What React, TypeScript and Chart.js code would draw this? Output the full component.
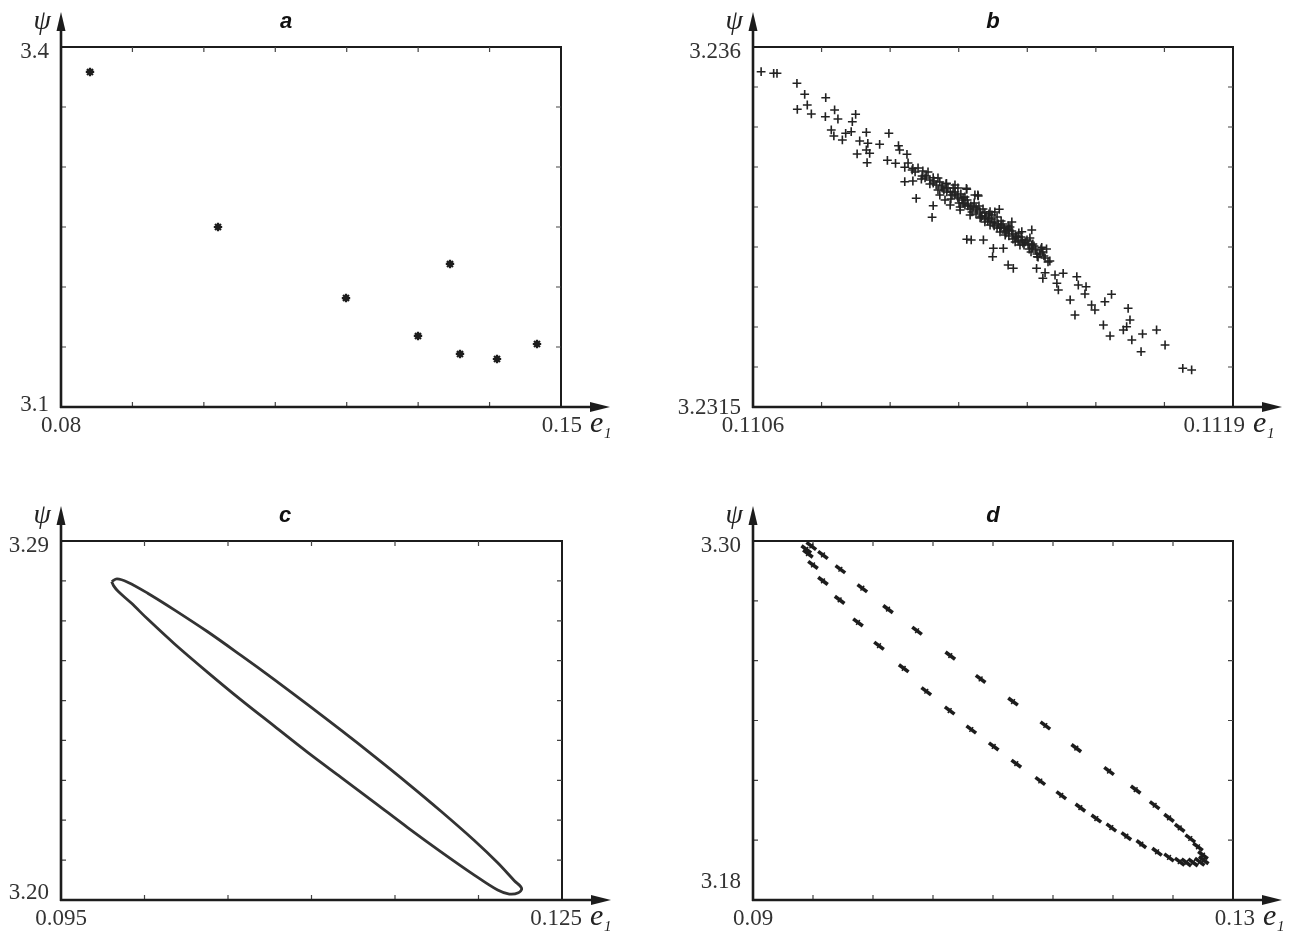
import React, { useEffect, useRef } from "react";
import { Chart, registerables } from "chart.js";
Chart.register(...registerables);

// ---------- Panel a ----------
const aE1 = [0.08406, 0.10198, 0.1199, 0.13446, 0.12998, 0.13586, 0.14104, 0.14664];
const aPsi = [3.3792, 3.25, 3.1908, 3.2192, 3.1592, 3.1442, 3.14, 3.1525];
const aXRange = [0.08, 0.15];
const aYRange = [3.1, 3.4];
const aXTickLabels = ["0.08", "0.15"];
const aYTickLabels = ["3.1", "3.4"];

// ---------- Panel b ----------
const bE1 = [
  0.110622, 0.110656, 0.110665, 0.110719, 0.11074, 0.110797, 0.11072, 0.110747, 0.110758, 0.110796,
  0.110821, 0.11083, 0.110878, 0.110869, 0.110812, 0.110819, 0.110851, 0.110866, 0.110842, 0.110907,
  0.110889, 0.110911, 0.110907, 0.110882, 0.110916, 0.110909, 0.110943, 0.110968, 0.110964, 0.110994,
  0.110997, 0.111017, 0.110986, 0.111011, 0.111033, 0.11106, 0.111011, 0.111033, 0.111056, 0.111088,
  0.111042, 0.111088, 0.111085, 0.111124, 0.111178, 0.111209, 0.111191,
  0.111039, 0.111058, 0.111079, 0.111096, 0.111106, 0.111117, 0.111128, 0.111139, 0.111147, 0.111155,
  0.111166, 0.111174, 0.111182, 0.11119, 0.111199, 0.111207, 0.111215, 0.111223, 0.111231, 0.111239,
  0.111247, 0.111255, 0.111264, 0.111272, 0.11128, 0.111288, 0.111296, 0.111304, 0.111312, 0.11132,
  0.111329, 0.111337, 0.111345, 0.111356, 0.111366, 0.111377, 0.11112, 0.111134, 0.111161, 0.111188,
  0.111228, 0.111269, 0.11131, 0.111147, 0.111201, 0.111255, 0.111301, 0.111106, 0.111161, 0.111215,
  0.111283, 0.11135, 0.111391, 0.111242, 0.111323, 0.111174, 0.111291, 0.111155,
  0.11102, 0.111031, 0.111047, 0.111066, 0.111074, 0.111088, 0.111101, 0.111112, 0.111123, 0.111134,
  0.111142, 0.111153, 0.111163, 0.111169, 0.11118, 0.111188, 0.111196, 0.111204, 0.111212, 0.11122,
  0.111228, 0.111236, 0.111245, 0.111253, 0.111261, 0.111269, 0.111277, 0.111285, 0.111293, 0.111301,
  0.11131, 0.111318, 0.111326, 0.111334, 0.111342, 0.111353, 0.111361, 0.111372, 0.111385, 0.111399,
  0.111069, 0.111079, 0.11109, 0.111101, 0.111112, 0.111125, 0.111136, 0.111147, 0.111158, 0.111169,
  0.111182, 0.111193, 0.111204, 0.111218, 0.111228, 0.111239, 0.11125, 0.111261, 0.111272, 0.111283,
  0.111293, 0.111304, 0.111315, 0.111331, 0.111348, 0.111358, 0.111369, 0.11138, 0.111388, 0.111404,
  0.111179, 0.11121, 0.111242, 0.111267, 0.111179, 0.111224, 0.111251, 0.111249, 0.111278, 0.111328,
  0.111355, 0.111355, 0.111382, 0.111395, 0.11137, 0.111368, 0.111291, 0.111305, 0.111385, 0.111391,
  0.111418, 0.11144, 0.111423, 0.111427, 0.111477, 0.111481, 0.111502, 0.111499, 0.111459, 0.111472,
  0.111517, 0.111526, 0.111553, 0.111571, 0.111549, 0.111567, 0.111612, 0.111621, 0.111616, 0.111603,
  0.111655, 0.111626, 0.111693, 0.111716, 0.111651, 0.111764, 0.111788,
];
const bPsi = [
  3.235691, 3.235671, 3.235671, 3.235546, 3.235409, 3.235366, 3.235221, 3.235275, 3.235163, 3.235129,
  3.235213, 3.2351, 3.235159, 3.235066, 3.234963, 3.234888, 3.234921, 3.234941, 3.234838, 3.234934,
  3.234825, 3.234796, 3.234713, 3.234663, 3.234671, 3.234554, 3.234784, 3.234921, 3.234584, 3.234766,
  3.234713, 3.234659, 3.234546, 3.234496, 3.234484, 3.23445, 3.234316, 3.234325, 3.23435, 3.234366,
  3.234109, 3.234016, 3.233871, 3.234296, 3.234234, 3.23415, 3.233588,
  3.234438, 3.234388, 3.234338, 3.234275, 3.234313, 3.234213, 3.234238, 3.23415, 3.234188, 3.234113,
  3.234088, 3.234125, 3.234038, 3.234013, 3.23405, 3.233963, 3.233938, 3.233975, 3.233888, 3.233863,
  3.2339, 3.233813, 3.233788, 3.233825, 3.233738, 3.233713, 3.23375, 3.233663, 3.233638, 3.233675,
  3.233588, 3.233563, 3.233538, 3.233488, 3.233463, 3.233413, 3.234088, 3.234025, 3.233963, 3.2339,
  3.233813, 3.233688, 3.233563, 3.234275, 3.23415, 3.233938, 3.233813, 3.23415, 3.234, 3.233863,
  3.23365, 3.233613, 3.233363, 3.233775, 3.233525, 3.234025, 3.233763, 3.234238,
  3.23455, 3.234463, 3.234488, 3.234363, 3.234438, 3.2343, 3.234363, 3.234238, 3.234288, 3.234188,
  3.234238, 3.234138, 3.234163, 3.23405, 3.234088, 3.233975, 3.234, 3.233913, 3.234013, 3.233888,
  3.233925, 3.233825, 3.23385, 3.233763, 3.233875, 3.233738, 3.233788, 3.233675, 3.233638, 3.2337,
  3.233613, 3.233575, 3.233625, 3.233525, 3.233588, 3.233438, 3.233513, 3.233375, 3.233438, 3.233313,
  3.234388, 3.234288, 3.234325, 3.234213, 3.234263, 3.234188, 3.2341, 3.234163, 3.23405, 3.234113,
  3.234013, 3.233938, 3.233988, 3.233875, 3.23385, 3.233913, 3.2338, 3.233738, 3.233763, 3.2337,
  3.233725, 3.2336, 3.233625, 3.23355, 3.233475, 3.233538, 3.233413, 3.233475, 3.233388, 3.233325,
  3.234221, 3.234138, 3.233941, 3.233971, 3.233596, 3.233588, 3.233484, 3.233379, 3.233484, 3.233691,
  3.233713, 3.233525, 3.233496, 3.233475, 3.233379, 3.233234, 3.233275, 3.233234, 3.233109, 3.233179,
  3.23315, 3.233171, 3.233046, 3.232963, 3.233129, 3.233025, 3.233004, 3.232913, 3.232838, 3.23265,
  3.232775, 3.232713, 3.232816, 3.232909, 3.232525, 3.232388, 3.232504, 3.232588, 3.232734, 3.232463,
  3.232413, 3.232338, 3.232463, 3.232275, 3.232191, 3.231984, 3.231963,
];
const bXRange = [0.1106, 0.1119];
const bYRange = [3.2315, 3.236];
const bXTickLabels = ["0.1106", "0.1119"];
const bYTickLabels = ["3.2315", "3.236"];

// ---------- Panel c ----------
const cE1 = [
  0.098034, 0.098353, 0.098992, 0.10019, 0.101786, 0.103782, 0.105778, 0.107774, 0.10977, 0.111766,
  0.113762, 0.115758, 0.117754, 0.11975, 0.121148, 0.122146, 0.122585, 0.122385, 0.121846, 0.121148,
  0.11975, 0.117754, 0.115758, 0.113762, 0.111766, 0.10977, 0.107774, 0.105778, 0.103782, 0.101786,
  0.10019, 0.099192, 0.098433, 0.098154, 0.098034,
];
const cPsi = [
  3.27983, 3.2805, 3.27967, 3.27692, 3.27275, 3.26725, 3.26133, 3.25525, 3.249, 3.24258,
  3.236, 3.22925, 3.22225, 3.21492, 3.20933, 3.20483, 3.20292, 3.20183, 3.2015, 3.2025,
  3.20625, 3.21208, 3.21817, 3.2245, 3.23075, 3.237, 3.24358, 3.25017, 3.25708, 3.26425,
  3.27042, 3.2745, 3.27733, 3.27875, 3.27983,
];
const cXRange = [0.095, 0.125];
const cYRange = [3.2, 3.29];
const cXTickLabels = ["0.095", "0.125"];
const cYTickLabels = ["3.20", "3.29"];

// ---------- Panel d ----------
const dE1 = [
  0.09486, 0.09583, 0.09728, 0.09911, 0.10125, 0.10367, 0.10644, 0.10897, 0.11167, 0.11436,
  0.11694, 0.11967, 0.12189, 0.12347, 0.12467, 0.12556, 0.12644, 0.12708, 0.1275, 0.12756,
  0.12722, 0.12667, 0.12611, 0.12556, 0.12467, 0.12367, 0.12236, 0.12111, 0.11986, 0.11861,
  0.11728, 0.11569, 0.11394, 0.11194, 0.11006, 0.10819, 0.10639, 0.10444, 0.10256, 0.1005,
  0.09875, 0.09722, 0.09583, 0.095, 0.09458, 0.09444,
];
const dPsi = [
  3.29833, 3.29533, 3.29056, 3.28422, 3.27722, 3.27, 3.26167, 3.25389, 3.24633, 3.23833,
  3.23078, 3.22311, 3.21689, 3.21167, 3.20744, 3.20411, 3.20056, 3.19778, 3.195, 3.19333,
  3.19278, 3.19256, 3.19256, 3.19278, 3.19422, 3.19611, 3.19867, 3.20133, 3.20422, 3.20722,
  3.21089, 3.215, 3.21978, 3.22556, 3.23133, 3.237, 3.24333, 3.24978, 3.25744, 3.265,
  3.27278, 3.28033, 3.28667, 3.292, 3.29578, 3.29722,
];
const dXRange = [0.09, 0.13];
const dYRange = [3.18, 3.3];
const dXTickLabels = ["0.09", "0.13"];
const dYTickLabels = ["3.18", "3.30"];

const pts = (xs: number[], ys: number[]) => xs.map((x, i) => ({ x, y: ys[i] }));

type Panel = {
  title: string;
  left: number; top: number; w: number; h: number;
  pad: { left: number; top: number; right: number; bottom: number };
  xr: number[]; yr: number[]; xn: number; yn: number;
  xLabels: string[]; yLabels: string[];
  titleX: number; eOff: number; yBotOff: number;
  datasets: any[];
};

const INK = "#1c1c1c";

const panels: Panel[] = [
  {
    title: "a", left: 0, top: 0, w: 647, h: 467,
    pad: { left: 61, top: 47, right: 86, bottom: 60 },
    xr: aXRange, yr: aYRange, xn: 7, yn: 6,
    xLabels: aXTickLabels, yLabels: aYTickLabels,
    titleX: 286, eOff: 29, yBotOff: -2,
    datasets: [{
      data: pts(aE1, aPsi), pointStyle: "star", pointRadius: 4.2,
      borderColor: INK, backgroundColor: INK, pointBorderWidth: 2.2,
    }],
  },
  {
    title: "b", left: 647, top: 0, w: 648, h: 467,
    pad: { left: 106, top: 47, right: 62, bottom: 60 },
    xr: bXRange, yr: bYRange, xn: 7, yn: 9,
    xLabels: bXTickLabels, yLabels: bYTickLabels,
    titleX: 346, eOff: 20, yBotOff: 1,
    datasets: [{
      data: pts(bE1, bPsi), pointStyle: "cross", pointRadius: 4.4,
      borderColor: "#222", backgroundColor: "#222", pointBorderWidth: 1.6,
    }],
  },
  {
    title: "c", left: 0, top: 467, w: 647, h: 467,
    pad: { left: 61, top: 74, right: 85, bottom: 34 },
    xr: cXRange, yr: cYRange, xn: 6, yn: 9,
    xLabels: cXTickLabels, yLabels: cYTickLabels,
    titleX: 285, eOff: 28, yBotOff: -7,
    datasets: [{
      data: pts(cE1, cPsi), showLine: true, tension: 0.35, pointRadius: 0,
      borderColor: "#333", borderWidth: 2.8, fill: false,
    }],
  },
  {
    title: "d", left: 647, top: 467, w: 648, h: 467,
    pad: { left: 106, top: 74, right: 62, bottom: 34 },
    xr: dXRange, yr: dYRange, xn: 8, yn: 6,
    xLabels: dXTickLabels, yLabels: dYTickLabels,
    titleX: 346, eOff: 30, yBotOff: -18,
    datasets: [
      {
        data: pts(dE1, dPsi), pointStyle: "line", pointRadius: 6, rotation: 37,
        borderColor: INK, backgroundColor: INK, pointBorderWidth: 3.6,
      },
      {
        data: pts(dE1, dPsi), pointStyle: "line", pointRadius: 3, rotation: -53,
        borderColor: INK, backgroundColor: INK, pointBorderWidth: 1.5,
      },
    ],
  },
];

function decoPlugin(p: Panel) {
  return {
    id: "deco_" + p.title,
    beforeDatasetsDraw(chart: any) {
      const { ctx, chartArea: ca, scales } = chart;
      const xs = scales.x, ys = scales.y;
      ctx.save();
      ctx.strokeStyle = INK;
      ctx.fillStyle = INK;
      ctx.lineCap = "butt";
      ctx.lineWidth = 2;
      ctx.beginPath();
      ctx.moveTo(ca.left, ca.top);
      ctx.lineTo(ca.right, ca.top);
      ctx.lineTo(ca.right, ca.bottom);
      ctx.stroke();
      ctx.lineWidth = 1.2;
      ctx.strokeStyle = "#444";
      for (let i = 1; i < p.xn; i++) {
        const v = p.xr[0] + (i * (p.xr[1] - p.xr[0])) / p.xn;
        const px = xs.getPixelForValue(v);
        ctx.beginPath();
        ctx.moveTo(px, ca.bottom); ctx.lineTo(px, ca.bottom - 5);
        ctx.moveTo(px, ca.top); ctx.lineTo(px, ca.top + 5);
        ctx.stroke();
      }
      for (let i = 1; i < p.yn; i++) {
        const v = p.yr[0] + (i * (p.yr[1] - p.yr[0])) / p.yn;
        const py = ys.getPixelForValue(v);
        ctx.beginPath();
        ctx.moveTo(ca.left, py); ctx.lineTo(ca.left + 5, py);
        ctx.moveTo(ca.right, py); ctx.lineTo(ca.right - 5, py);
        ctx.stroke();
      }
      ctx.strokeStyle = INK;
      ctx.lineWidth = 2.6;
      const yTip = ca.top - 35;
      const xTip = ca.right + 49;
      ctx.beginPath();
      ctx.moveTo(ca.left, ca.bottom + 1);
      ctx.lineTo(ca.left, yTip + 12);
      ctx.stroke();
      ctx.beginPath();
      ctx.moveTo(ca.left - 1, ca.bottom);
      ctx.lineTo(xTip - 12, ca.bottom);
      ctx.stroke();
      ctx.beginPath();
      ctx.moveTo(ca.left, yTip);
      ctx.lineTo(ca.left - 4.5, yTip + 19);
      ctx.lineTo(ca.left + 4.5, yTip + 19);
      ctx.closePath();
      ctx.fill();
      ctx.beginPath();
      ctx.moveTo(xTip, ca.bottom);
      ctx.lineTo(xTip - 20, ca.bottom - 5);
      ctx.lineTo(xTip - 20, ca.bottom + 5);
      ctx.closePath();
      ctx.fill();
      ctx.restore();
    },
    afterDraw(chart: any) {
      const { ctx, chartArea: ca } = chart;
      ctx.save();
      ctx.fillStyle = "#333";
      ctx.font = '23px "Liberation Serif", "Times New Roman", serif';
      ctx.textAlign = "right";
      ctx.textBaseline = "middle";
      ctx.fillText(p.yLabels[1], ca.left - 12, ca.top + 5);
      ctx.fillText(p.yLabels[0], ca.left - 12, ca.bottom + p.yBotOff);
      ctx.textAlign = "center";
      ctx.fillText(p.xLabels[0], ca.left, ca.bottom + 19);
      const ex = ca.right + p.eOff;
      ctx.textAlign = "right";
      ctx.fillText(p.xLabels[1], ex - 8, ca.bottom + 19);
      ctx.textAlign = "left";
      ctx.textBaseline = "alphabetic";
      ctx.fillStyle = "#222";
      ctx.font = 'italic 30px "Liberation Serif", serif';
      ctx.fillText("e", ex, ca.bottom + 25);
      ctx.font = 'italic 15px "Liberation Serif", serif';
      ctx.fillText("1", ex + 14, ca.bottom + 31);
      ctx.font = 'italic 28px "Liberation Serif", serif';
      ctx.textAlign = "right";
      ctx.textBaseline = "middle";
      ctx.fillText("ψ", ca.left - 10, ca.top - 25);
      ctx.font = 'bold italic 22px "Liberation Sans", Arial, sans-serif';
      ctx.textAlign = "center";
      ctx.fillStyle = "#111";
      ctx.fillText(p.title, p.titleX, ca.top - 25);
      ctx.restore();
    },
  };
}

function PanelChart({ p }: { p: Panel }) {
  const ref = useRef<HTMLCanvasElement | null>(null);
  useEffect(() => {
    if (!ref.current) return;
    const chart = new Chart(ref.current, {
      type: "scatter",
      data: { datasets: p.datasets },
      options: {
        responsive: false,
        animation: false,
        devicePixelRatio: 1,
        layout: { padding: p.pad },
        plugins: { legend: { display: false }, tooltip: { enabled: false } },
        scales: {
          x: { type: "linear", min: p.xr[0], max: p.xr[1], display: false },
          y: { type: "linear", min: p.yr[0], max: p.yr[1], display: false },
        },
      },
      plugins: [decoPlugin(p)],
    } as any);
    return () => chart.destroy();
  }, [p]);
  return (
    <canvas
      ref={ref}
      width={p.w}
      height={p.h}
      style={{ position: "absolute", left: p.left, top: p.top, width: p.w, height: p.h }}
    />
  );
}

export default function App() {
  return (
    <div style={{ position: "absolute", left: 0, top: 0, width: 1295, height: 934, background: "#fff" }}>
      {panels.map((p) => (
        <PanelChart key={p.title} p={p} />
      ))}
    </div>
  );
}
